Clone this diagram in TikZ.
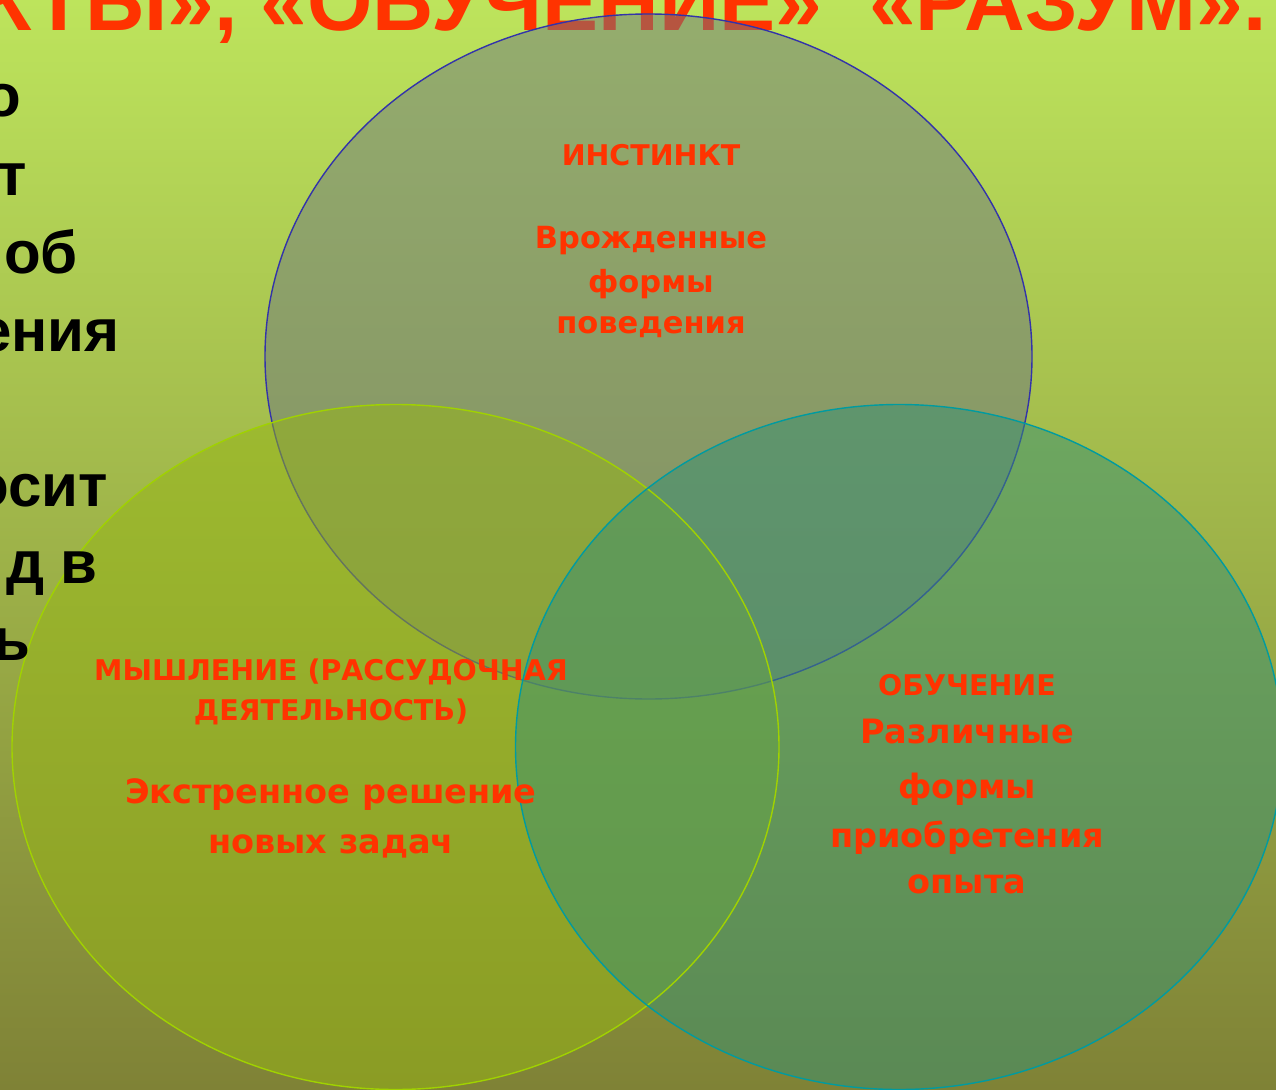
\documentclass[tikz,border=0pt]{standalone}
\usepackage{fontspec}
\setmainfont{Liberation Sans}
\newfontfamily\vennfont{DejaVu Sans}
\usetikzlibrary{shapes.geometric}
\definecolor{bgtop}{RGB}{189,228,92}
\definecolor{bgmid}{RGB}{163,196,70}
\definecolor{bgbot}{RGB}{127,130,54}
\definecolor{redtxt}{RGB}{255,51,0}
\definecolor{topfill}{RGB}{110,120,128}
\definecolor{topline}{RGB}{51,51,170}
\definecolor{leftfill}{RGB}{150,182,20}
\definecolor{leftline}{RGB}{160,210,0}
\definecolor{rightfill}{RGB}{55,145,115}
\definecolor{rightline}{RGB}{0,155,160}
\tikzset{
  vennshape/.style={ellipse, inner sep=0pt, minimum width=767pt, minimum height=685pt},
  titletext/.style={text=redtxt, font=\fontsize{84}{84}\selectfont\bfseries, inner sep=0pt, anchor=base east},
  sidetext/.style={text=black, font=\fontsize{60}{60}\selectfont\bfseries, inner sep=0pt, anchor=base east},
  headtext/.style={text=redtxt, font=\vennfont\bfseries\fontsize{28.5}{28.5}\selectfont, inner sep=0pt, anchor=base},
  bodytext/.style={text=redtxt, font=\vennfont\bfseries\fontsize{33.5}{33.5}\selectfont, inner sep=0pt, anchor=base},
  topbodytext/.style={bodytext, font=\vennfont\bfseries\fontsize{30.5}{30.5}\selectfont},
}
\begin{document}
\begin{tikzpicture}[x=1pt,y=-1pt]
\useasboundingbox (0,0) rectangle (1276,1089);
\clip (0,0) rectangle (1276,1089);
\shade[top color=bgtop, middle color=bgmid, bottom color=bgbot] (0,0) rectangle (1276,1089);

% title
\node[titletext] (title) at (1267,31) {КТЫ», «ОБУЧЕНИЕ»\ \ «РАЗУМ».};

% ellipses
\node[vennshape, fill=topfill, fill opacity=0.5, draw=topline, line width=1.4pt] (instinct) at (648.5,356.5) {};
\node[vennshape, fill=leftfill, fill opacity=0.5] (thinking) at (395.5,747) {};
\node[vennshape, fill=rightfill, fill opacity=0.5] (learning) at (899,747) {};
\node[vennshape, draw=leftline, line width=1.4pt] (thinkingedge) at (395.5,747) {};
\node[vennshape, draw=rightline, line width=1.4pt] (learningedge) at (899,747) {};

% left text fragments
\node[sidetext] (s1) at (21,117) {о};
\node[sidetext] (s2) at (27,195) {т};
\node[sidetext] (s3) at (78,273) {об};
\node[sidetext] (s4) at (120,351) {ения};
\node[sidetext] (s5) at (108,506) {осит};
\node[sidetext] (s6) at (98,583) {д в};
\node[sidetext] (s7) at (31,660) {ь};

% texts in top ellipse
\node[headtext] (t1) at (651,165) {ИНСТИНКТ};
\node[topbodytext] (t2) at (651,248) {Врожденные};
\node[topbodytext] (t3) at (651,292) {формы};
\node[topbodytext] (t4) at (651,333) {поведения};

% texts in left ellipse
\node[headtext] (l1) at (331,680) {МЫШЛЕНИЕ (РАССУДОЧНАЯ};
\node[headtext] (l2) at (331,720) {ДЕЯТЕЛЬНОСТЬ)};
\node[bodytext] (l3) at (331,803) {Экстренное решение};
\node[bodytext] (l4) at (331,853) {новых задач};

% texts in right ellipse
\node[headtext] (r1) at (967,695) {ОБУЧЕНИЕ};
\node[bodytext] (r2) at (967,743) {Различные};
\node[bodytext] (r3) at (967,798) {формы};
\node[bodytext] (r4) at (967,847) {приобретения};
\node[bodytext] (r5) at (967,893) {опыта};
\end{tikzpicture}
\end{document}
